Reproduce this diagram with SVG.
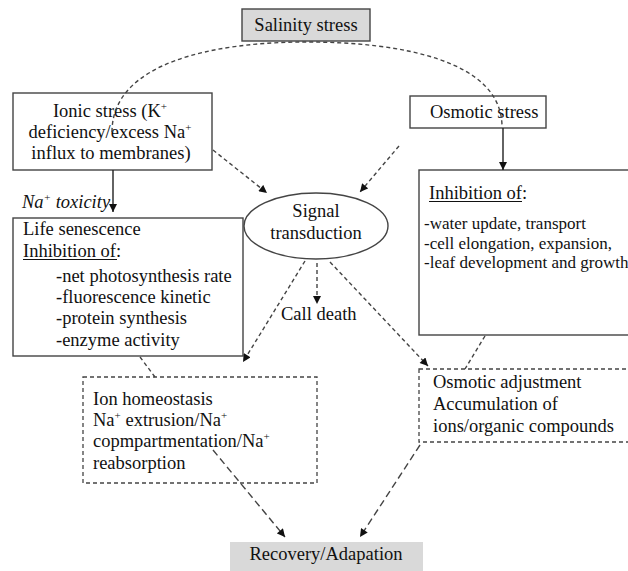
<svg xmlns="http://www.w3.org/2000/svg" width="628" height="571" viewBox="0 0 628 571">
<style>
text{font-family:"Liberation Serif","Times New Roman",serif;fill:#111;font-size:18.5px}
.sm{font-size:17px}
.sup{font-size:11px}
.box{fill:#fff;stroke:#444;stroke-width:1.4}
.gbox{fill:#d9d9d9;stroke:#444;stroke-width:1.4}
.dbox{fill:#fff;stroke:#444;stroke-width:1.3;stroke-dasharray:4 3}
.ln{stroke:#222;stroke-width:1.4;fill:none}
.dl{stroke:#444;stroke-width:1.4;fill:none;stroke-dasharray:4 3}
.dl2{stroke:#444;stroke-width:1.4;fill:none;stroke-dasharray:7 4}
.ul{stroke:#111;stroke-width:1}
</style>
<defs>
<marker id="ah" viewBox="0 0 10 10" refX="10" refY="5" markerWidth="9" markerHeight="8" markerUnits="userSpaceOnUse" orient="auto">
<path d="M0,0 L10,5 L0,10 z" fill="#111"/>
</marker>
</defs>

<g id="salinity">
<rect class="gbox" x="242" y="9" width="128" height="32"/>
<text x="306" y="31" text-anchor="middle">Salinity stress</text>
</g>

<g id="ionic">
<rect class="box" x="13" y="93" width="199" height="77"/>
<text x="110" y="117" text-anchor="middle">Ionic stress (K<tspan class="sup" dy="-7">+</tspan></text>
<text x="110" y="138" text-anchor="middle">deficiency/excess Na<tspan class="sup" dy="-7">+</tspan></text>
<text x="111" y="159" text-anchor="middle">influx to membranes)</text>
</g>

<g id="osmotic">
<rect class="box" x="410" y="96" width="136" height="32"/>
<text x="430" y="118">Osmotic stress</text>
</g>

<g id="inhib-right">
<rect class="box" x="419" y="170" width="230" height="165"/>
<text x="429" y="199">Inhibition of:</text>
<line class="ul" x1="429" y1="201.5" x2="522" y2="201.5"/>
<text class="sm" x="424" y="229">-water update, transport</text>
<text class="sm" x="424" y="249">-cell elongation, expansion,</text>
<text class="sm" x="424" y="268">-leaf development and growth</text>
</g>

<g id="toxicity-label">
<text x="22" y="208" font-style="italic" font-size="18">Na<tspan class="sup" dy="-7">+</tspan><tspan dy="7"> toxicity</tspan></text>
</g>

<g id="life">
<rect class="box" x="13" y="218" width="230" height="138"/>
<text x="23" y="235">Life senescence</text>
<text x="23" y="257">Inhibition of:</text>
<line class="ul" x1="23" y1="259.5" x2="117" y2="259.5"/>
<text x="56" y="282">-net photosynthesis rate</text>
<text x="56" y="303">-fluorescence kinetic</text>
<text x="56" y="324">-protein synthesis</text>
<text x="56" y="346">-enzyme activity</text>
</g>

<g id="signal">
<ellipse cx="316" cy="226" rx="72" ry="33" fill="#fff" stroke="#444" stroke-width="1.4"/>
<text x="316" y="217" text-anchor="middle">Signal</text>
<text x="316" y="239" text-anchor="middle">transduction</text>
</g>

<g id="death">
<text x="281" y="320">Call death</text>
</g>

<g id="ion-homeostasis">
<rect class="dbox" x="83" y="377" width="234" height="106"/>
<text x="93" y="405">Ion homeostasis</text>
<text x="93" y="426">Na<tspan class="sup" dy="-7">+</tspan><tspan dy="7"> extrusion/Na</tspan><tspan class="sup" dy="-7">+</tspan></text>
<text x="93" y="447">copmpartmentation/Na<tspan class="sup" dy="-7">+</tspan></text>
<text x="93" y="469">reabsorption</text>
</g>

<g id="osmotic-adjustment">
<rect class="dbox" x="419" y="369" width="230" height="73"/>
<text x="433" y="388">Osmotic adjustment</text>
<text x="433" y="410">Accumulation of</text>
<text x="433" y="432">ions/organic compounds</text>
</g>

<g id="recovery">
<rect x="230" y="542" width="193" height="35" fill="#d9d9d9"/>
<text x="326" y="560" text-anchor="middle">Recovery/Adapation</text>
</g>

<g id="connectors">
<path class="dl" d="M112,132 C112,62 215,42 306,42 C400,42 500,60 502,125"/>
<line class="dl" x1="213" y1="150" x2="267" y2="193" marker-end="url(#ah)"/>
<line class="dl" x1="399" y1="146" x2="360" y2="192" marker-end="url(#ah)"/>
<line class="ln" x1="503" y1="128" x2="503" y2="170" marker-end="url(#ah)"/>
<line class="ln" x1="113" y1="170" x2="113" y2="212" marker-end="url(#ah)"/>
<line class="dl" x1="305" y1="261" x2="243" y2="362" marker-end="url(#ah)"/>
<line class="dl" x1="317" y1="263" x2="317" y2="304" marker-end="url(#ah)"/>
<line class="dl" x1="330" y1="262" x2="428" y2="366" marker-end="url(#ah)"/>
<line class="dl" x1="140" y1="357" x2="155" y2="377"/>
<line class="dl" x1="485" y1="336" x2="465" y2="369"/>
<line class="dl2" x1="213" y1="450" x2="285" y2="537" marker-end="url(#ah)"/>
<line class="dl2" x1="420" y1="445" x2="360" y2="537" marker-end="url(#ah)"/>
</g>
</svg>
